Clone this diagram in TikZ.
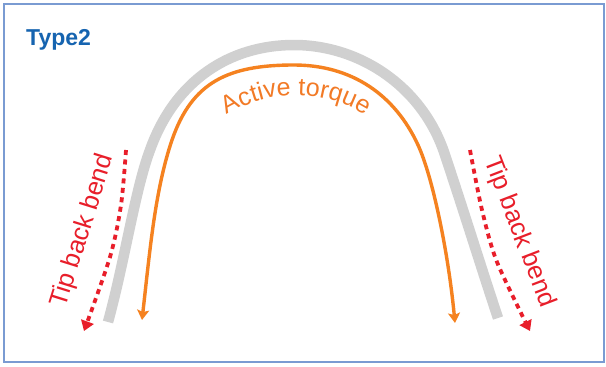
\documentclass[tikz,border=0pt]{standalone}
\usepackage{fontspec}
\setmainfont{Liberation Sans}
\usetikzlibrary{arrows.meta,decorations.text}
\definecolor{frameblue}{RGB}{122,155,210}
\definecolor{titleblue}{RGB}{22,100,176}
\definecolor{bandgray}{RGB}{208,208,208}
\definecolor{tqorange}{RGB}{245,130,32}
\definecolor{txorange}{RGB}{242,122,38}
\definecolor{bendred}{RGB}{232,30,42}
\tikzset{
  frame/.style={draw=frameblue,line width=2pt},
  band/.style={draw=bandgray,line width=10.5pt},
  torque/.style={draw=tqorange,line width=3.4pt,{Stealth[length=10pt,width=12pt,inset=2pt]}-{Stealth[length=10pt,width=12pt,inset=2pt]}},
  bendarrow/.style={draw=bendred,line width=3.8pt,dash pattern=on 5pt off 4.5pt,-{Triangle[length=10pt,width=13pt]}},
  bendlabel/.style={text=bendred,font=\fontsize{25.5}{27}\selectfont,inner sep=0pt},
  titlelabel/.style={text=titleblue,font=\fontsize{23}{25}\selectfont\bfseries,inner sep=0pt}
}
\begin{document}
\begin{tikzpicture}[x=1pt,y=-1pt]
\useasboundingbox (0,0) rectangle (606,367);
\fill[white] (0,0) rectangle (606,367);
\draw[frame] (4,3.5) rectangle (604,362);
\node[titlelabel,anchor=base west] (title) at (26,45) {Type2};
% grey wire
\draw[band] (108,322) .. controls (125,260) and (135,190) .. (150,150)
  .. controls (175,80) and (230,45) .. (294,45)
  .. controls (360,45) and (423,87) .. (445,155)
  .. controls (465,215) and (482,270) .. (498,318);
% active torque
\draw[torque] (142,320) .. controls (150,250) and (155,190) .. (172,140)
  .. controls (192,82) and (228,65) .. (294,65)
  .. controls (352,65) and (395,95) .. (418,145)
  .. controls (432,175) and (448,250) .. (455,323);
\coordinate (tl) at (197.5,141);
\coordinate (tr) at (394.5,141);
\path[decorate,decoration={text along path,text align=center,text color=txorange,text={|\fontsize{25}{25}\selectfont|Active torque}}] (tl) .. controls (248.5,80) and (343.5,80) .. (tr);
% tip back bend arrows
\draw[bendarrow] plot[smooth] coordinates {(126,150) (121,205) (110,257) (84,331)};
\draw[bendarrow] plot[smooth] coordinates {(470,150) (482,210) (497,262) (530,331)};
\node[bendlabel,rotate=72.6] (bl) at (83,231) {Tip back bend};
\node[bendlabel,rotate=-69] (br) at (519,232) {Tip back bend};
\end{tikzpicture}
\end{document}
